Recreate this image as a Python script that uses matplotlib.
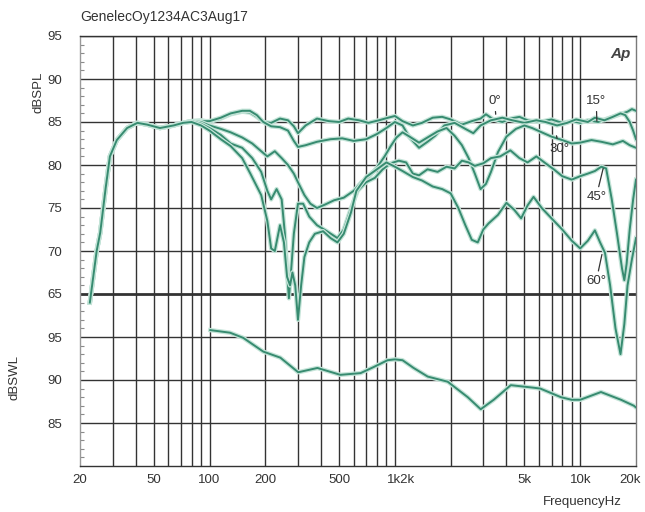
import matplotlib
matplotlib.use('agg')
import matplotlib.pyplot as plt
import matplotlib.patheffects as pe
from matplotlib.transforms import ScaledTranslation

# shared low-frequency part of all SPL curves (Hz, dBSPL)
lf_freq = [22.6, 24.6, 25.7, 27.5, 29.0, 31.6, 35.9, 40.8, 46.0, 54.0, 64.0, 72.0]
lf_db = [64.0, 70.0, 72.1, 77.3, 81.0, 82.9, 84.3, 84.9, 84.7, 84.3, 84.6, 84.9]

freq_0 = [80, 90, 100, 115, 130, 150, 165, 180, 195, 215, 240, 265, 285, 300, 330, 380, 440, 500, 560, 640,
          720, 820, 920, 1000, 1100, 1250, 1400, 1600, 1800, 2000, 2300, 2600, 2900, 3100, 3400, 3800, 4200,
          4700, 5200, 6000, 7000, 8000, 9000, 10000, 11000, 12500, 14000, 16000, 18000, 19000, 20000]
spl_0 = [85.1, 85.2, 85.0, 85.4, 85.9, 86.2, 86.1, 85.6, 85.0, 84.9, 85.4, 85.2, 84.5, 83.7, 84.6, 85.4, 85.1,
         85.0, 85.4, 85.2, 84.9, 85.2, 85.5, 85.7, 85.1, 84.6, 84.9, 85.5, 85.6, 85.3, 84.7, 85.1, 85.4, 85.9,
         85.3, 85.0, 85.4, 85.6, 85.2, 85.0, 85.3, 84.9, 85.1, 84.9, 85.2, 85.0, 85.4, 85.8, 86.2, 86.5, 86.3]

freq_15 = [80, 90, 100, 115, 130, 150, 165, 180, 195, 215, 240, 265, 285, 300, 330, 380, 450, 520, 600, 700,
           800, 900, 1000, 1100, 1200, 1350, 1500, 1650, 1850, 2100, 2400, 2650, 2900, 3300, 3800, 4300, 5000,
           5800, 6500, 7500, 8500, 9500, 11000, 12000, 13500, 15000, 16500, 17500, 18500, 19300, 20000]
spl_15 = [85.1, 85.1, 85.1, 85.5, 86.0, 86.3, 86.3, 85.8, 85.0, 84.5, 84.4, 84.0, 82.8, 82.1, 82.3, 82.7, 83.0,
          83.1, 82.8, 83.0, 83.6, 84.3, 85.0, 84.6, 83.2, 82.0, 82.7, 83.4, 84.6, 84.9, 84.2, 83.7, 84.6, 85.2,
          85.5, 85.2, 84.9, 85.2, 85.0, 84.6, 84.9, 85.3, 85.0, 85.5, 85.2, 85.6, 86.0, 85.8, 85.0, 84.0, 83.0]

freq_30 = [80, 90, 100, 115, 130, 150, 170, 190, 205, 225, 245, 265, 285, 300, 325, 350, 380, 420, 470, 530,
           600, 660, 720, 800, 880, 950, 1020, 1100, 1200, 1350, 1500, 1700, 1900, 2100, 2300, 2500, 2700,
           2900, 3100, 3300, 3600, 4000, 4500, 5000, 5500, 6200, 7000, 8000, 9000, 10000, 11500, 13000,
           15000, 17000, 18500, 20000]
spl_30 = [85.1, 85.0, 84.6, 84.2, 83.8, 83.2, 82.5, 81.6, 81.0, 81.6, 80.8, 80.0, 79.0, 78.0, 76.5, 75.5, 75.0,
          75.4, 75.9, 76.2, 77.0, 78.0, 78.6, 79.7, 81.0, 82.2, 83.2, 83.8, 83.3, 82.6, 83.2, 83.9, 84.3, 83.4,
          82.3, 80.8, 79.0, 77.2, 77.8, 79.2, 81.5, 83.3, 84.2, 84.6, 84.3, 83.8, 83.3, 82.9, 82.5, 82.6, 82.9,
          82.7, 82.4, 82.8, 82.3, 82.0]

freq_45 = [80, 90, 100, 115, 130, 150, 170, 190, 205, 215, 230, 245, 255, 263, 268, 275, 285, 300, 320, 345,
           380, 430, 490, 530, 580, 630, 700, 780, 860, 950, 1050, 1150, 1250, 1350, 1500, 1700, 1900, 2100,
           2300, 2500, 2700, 3000, 3300, 3700, 4200, 4700, 5200, 5800, 6500, 7200, 8000, 9000, 10000, 11000,
           12000, 13000, 13800, 14800, 15800, 16800, 17300, 17800, 18500, 19300, 20000]
spl_45 = [85.1, 84.8, 84.3, 83.5, 82.5, 82.0, 80.8, 79.2, 77.0, 76.0, 77.2, 76.0, 72.0, 67.0, 64.5, 67.5, 72.0,
          75.5, 75.5, 74.0, 73.0, 72.3, 71.5, 72.5, 75.0, 77.0, 78.0, 78.5, 79.5, 80.2, 80.5, 80.3, 79.0, 78.8,
          79.5, 79.2, 79.8, 79.6, 80.5, 80.3, 79.9, 80.2, 80.8, 81.0, 81.7, 80.8, 80.3, 81.0, 80.2, 79.5, 78.7,
          78.3, 78.7, 79.0, 79.3, 79.8, 79.6, 76.0, 72.0, 68.0, 66.6, 68.5, 72.5, 76.0, 78.3]

freq_60 = [80, 90, 100, 115, 130, 150, 166, 180, 190, 205, 215, 225, 240, 252, 262, 272, 280, 290, 300, 312,
           325, 345, 370, 410, 450, 490, 530, 580, 620, 700, 800, 900, 1000, 1100, 1250, 1400, 1600, 1800,
           2000, 2200, 2400, 2600, 2800, 3000, 3200, 3600, 4000, 4400, 4800, 5200, 5600, 6200, 7000, 8000,
           9000, 10000, 11000, 12000, 12800, 13600, 14500, 15500, 16500, 17300, 18000, 19000, 20000]
spl_60 = [85.0, 84.6, 84.0, 83.0, 82.2, 80.8, 79.0, 77.5, 76.5, 73.5, 70.3, 70.0, 73.0, 71.0, 67.0, 66.0, 67.5,
          66.0, 62.0, 66.0, 69.3, 71.0, 72.0, 72.3, 71.5, 71.0, 72.0, 74.5, 77.0, 78.6, 79.5, 80.3, 79.8, 79.3,
          78.6, 78.2, 77.5, 77.2, 76.7, 75.0, 73.0, 71.3, 71.0, 72.5, 73.2, 74.2, 75.6, 74.8, 73.8, 75.3, 76.3,
          75.0, 73.8, 72.5, 71.2, 70.3, 71.2, 72.4, 71.0, 69.8, 66.0, 61.0, 58.0, 61.5, 66.0, 69.0, 71.5]

# sound power curve (Hz, dBSWL)
freq_swl = [101, 129, 152, 195, 241, 301, 382, 508, 653, 767, 913, 1000, 1100, 1262, 1503, 1928, 2473, 2905,
            3414, 4222, 5623, 6100, 7870, 8990, 10000, 12940, 16600, 19500, 20000]
swl = [95.8, 95.5, 94.9, 93.3, 92.6, 90.9, 91.4, 90.6, 90.8, 91.5, 92.3, 92.4, 92.3, 91.4, 90.4, 89.8, 88.0,
       86.6, 87.7, 89.4, 89.1, 89.0, 88.0, 87.7, 87.7, 88.6, 87.7, 87.0, 86.8]
swl_offset = 35  # 100 dBSWL sits on the 65 dBSPL line

angle_labels = ['0°', '15°', '30°', '45°', '60°']
label_text_pos = [(3450, 87.4), (12200, 87.4), (7700, 81.9), (12200, 76.3), (12200, 66.5)]
label_point = [(3500, 85.9), (12300, 85.1), (7450, 83.4), (13300, 79.6), (13100, 69.6)]

x_ticks = [20, 50, 100, 200, 500, 1000, 5000, 10000, 20000]
x_ticklabels = ['20', '50', '100', '200', '500', '1k2k', '5k', '10k', '20k']
grid_freqs = [30, 40, 50, 60, 70, 80, 90, 100, 200, 300, 400, 500, 600, 700, 800, 900,
              1000, 2000, 3000, 4000, 5000, 6000, 7000, 8000, 9000, 10000]
y_ticks = [50, 55, 60, 65, 70, 75, 80, 85, 90, 95]
y_ticklabels = ['85', '90', '95', '65', '70', '75', '80', '85', '90', '95']

plt.rcParams['font.family'] = ['Liberation Sans', 'DejaVu Sans']
text_col = '#333333'
grid_col = '#333333'
line_col = '#378b70'
halo = [pe.Stroke(linewidth=3.2, foreground='#c4e4d8'), pe.Normal()]

fig = plt.figure(figsize=(6.45, 5.12), dpi=100)
ax = fig.add_axes([80 / 645, 1 - 466 / 512, 556 / 645, 430 / 512])
ax.set_xscale('log')
ax.set_xlim(20, 20000)
ax.set_ylim(45, 95)

for f in grid_freqs:
    ax.axvline(f, color=grid_col, lw=1.0, zorder=1)
for y in y_ticks:
    ax.axhline(y, color=grid_col, lw=2.0 if y == 65 else 1.0, zorder=1)

for fr, db in [(freq_0, spl_0), (freq_15, spl_15), (freq_30, spl_30), (freq_45, spl_45), (freq_60, spl_60)]:
    ax.plot(lf_freq + fr, lf_db + db, color=line_col, lw=1.4, zorder=3, path_effects=halo)
ax.plot(freq_swl, [v - swl_offset for v in swl], color=line_col, lw=1.4, zorder=3, path_effects=halo)

for lab, tp, pp in zip(angle_labels, label_text_pos, label_point):
    ax.annotate(lab, xy=pp, xytext=tp, ha='center', va='center', fontsize=9.5, color=text_col,
                arrowprops=dict(arrowstyle='-', color='#333333', lw=0.9, shrinkA=1, shrinkB=0), zorder=5)

ax.xaxis.set_minor_locator(matplotlib.ticker.NullLocator())
ax.set_xticks(x_ticks)
ax.set_xticklabels(x_ticklabels)
ax.set_yticks(y_ticks)
ax.set_yticklabels(y_ticklabels)
ax.set_yticks(range(46, 95), minor=True)
ax.tick_params(axis='both', which='major', length=0, labelsize=9.5, labelcolor=text_col)
ax.tick_params(axis='x', which='major', pad=6)
ax.tick_params(axis='y', which='major', pad=13)
ax.tick_params(axis='y', which='minor', direction='in', length=3, width=0.8, color='#8a8a8a')

# nudge the crowded labels like the original: 1k2k a bit right, 20k a bit left
xlabs = ax.get_xticklabels()
xlabs[5].set_transform(xlabs[5].get_transform() + ScaledTranslation(0.06, 0, fig.dpi_scale_trans))
xlabs[8].set_transform(xlabs[8].get_transform() + ScaledTranslation(-0.06, 0, fig.dpi_scale_trans))

ax.spines['left'].set_color('#9a9a9a')
ax.spines['right'].set_color('#7a7a7a')
ax.spines['top'].set_color(grid_col)
ax.spines['bottom'].set_color(grid_col)
for s in ax.spines.values():
    s.set_linewidth(1.0)

fig.text(80 / 645, 1 - 17 / 512, 'GenelecOy1234AC3Aug17', ha='left', va='center', fontsize=10, color=text_col)
fig.text(38 / 645, 1 - 92 / 512, 'dBSPL', rotation=90, ha='center', va='center', fontsize=9.5, color=text_col)
fig.text(15 / 645, 1 - 378 / 512, 'dBSWL', rotation=90, ha='center', va='center', fontsize=9.5, color=text_col)
fig.text(582 / 645, 1 - 502 / 512, 'FrequencyHz', ha='center', va='center', fontsize=9.5, color=text_col)
fig.text(621 / 645, 1 - 54 / 512, 'Ap', ha='center', va='center', fontsize=11, fontweight='bold',
         style='italic', color='#444444')

fig.savefig('out.png', dpi=100)
